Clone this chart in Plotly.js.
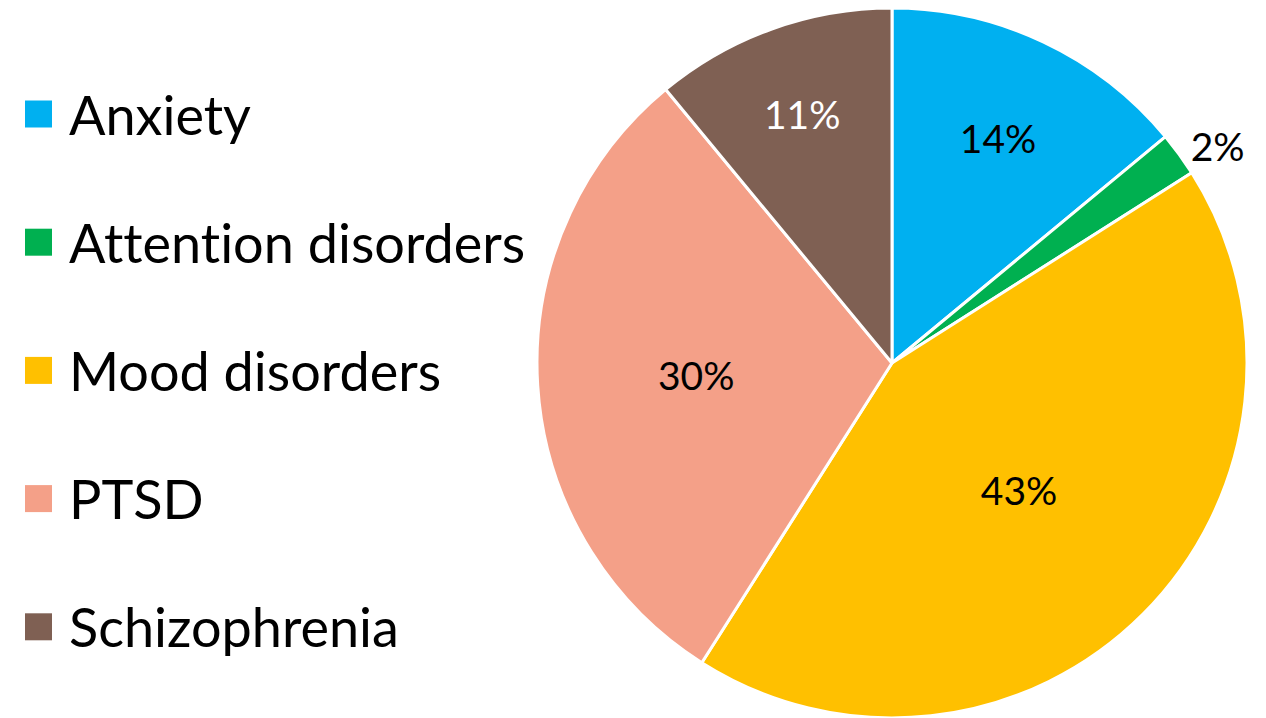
<!DOCTYPE html>
<html>
<head>
<meta charset="utf-8">
<script src="https://cdn.plot.ly/plotly-3.0.1.min.js"></script>
<style>html,body{margin:0;padding:0;background:#fff;}#chart{width:1266px;height:718px;}
svg text{font-variant-ligatures:none;font-feature-settings:"liga" 0;}</style>
</head>
<body>
<div id="chart"></div>
<script>
const categories = ["Anxiety", "Attention disorders", "Mood disorders", "PTSD", "Schizophrenia"];
const values = [14, 2, 43, 30, 11];
const colors = ["#00B0F0", "#00B050", "#FFC000", "#F4A088", "#7F6053"];
const labelColors = ["#000000", "#000000", "#000000", "#000000", "#FFFFFF"];
const labelPositions = ["inside", "outside", "inside", "inside", "inside"];

const W = 1266, H = 718;
const cx = 892, cy = 363, R = 355;

const pie = {
  type: "pie",
  labels: categories,
  values: values,
  sort: false,
  direction: "clockwise",
  rotation: 0,
  marker: { colors: colors, line: { color: "#FFFFFF", width: 3 } },
  texttemplate: "%{percent:.0%}",
  textinfo: "percent",
  textposition: labelPositions,
  insidetextorientation: "horizontal",
  textfont: { family: "Lato, sans-serif", size: 39, color: labelColors },
  insidetextfont: { family: "Lato, sans-serif", size: 39, color: labelColors },
  outsidetextfont: { family: "Lato, sans-serif", size: 39, color: "#000000" },
  showlegend: false,
  hoverinfo: "label+percent",
  domain: { x: [(cx - R) / W, (cx + R) / W], y: [(H - cy - R) / H, (H - cy + R) / H] }
};

// legend built from the category/color arrays
const legendTop = 114, legendStep = 128.2, sq = 27;
const shapes = [], annotations = [];
categories.forEach((c, i) => {
  const yc = legendTop + i * legendStep;
  shapes.push({
    type: "rect", xref: "paper", yref: "paper",
    x0: 25 / W, x1: (25 + sq) / W,
    y0: 1 - (yc + sq / 2) / H, y1: 1 - (yc - sq / 2) / H,
    fillcolor: colors[i], line: { width: 0 }
  });
  annotations.push({
    xref: "paper", yref: "paper", x: 67 / W, y: 1 - yc / H,
    xanchor: "left", yanchor: "middle", showarrow: false,
    text: c, font: { family: "Lato, sans-serif", size: 54, color: "#000000" }
  });
});

const layout = {
  width: W, height: H,
  margin: { l: 0, r: 0, t: 0, b: 0 },
  paper_bgcolor: "#FFFFFF",
  showlegend: false,
  shapes: shapes,
  annotations: annotations
};

Plotly.newPlot("chart", [pie], layout, { displayModeBar: false, staticPlot: true });
</script>
</body>
</html>
